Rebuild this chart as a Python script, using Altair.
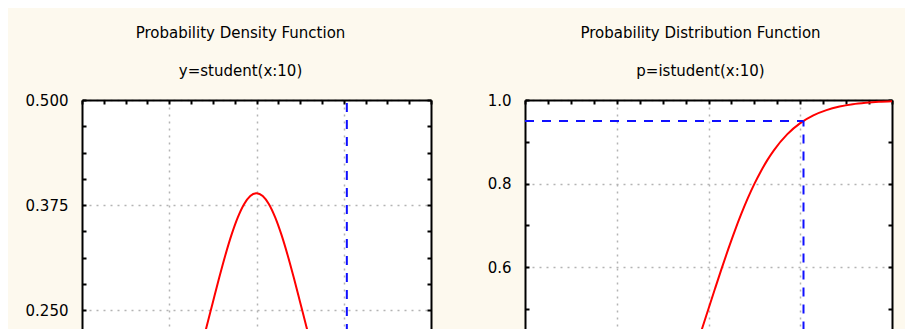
import altair as alt
import pandas as pd

# ---------------- data ----------------
curve_x = [-3.5, -3.25, -3.0, -2.75, -2.5, -2.25, -2.0, -1.75, -1.5, -1.25, -1.125,
           -1.0, -0.875, -0.75, -0.625, -0.5, -0.375, -0.25, -0.125, 0.0,
           0.125, 0.25, 0.375, 0.5, 0.625, 0.75, 0.875, 1.0, 1.125, 1.25,
           1.5, 1.75, 2.0, 2.25, 2.5, 2.75, 3.0, 3.25, 3.5]
pdf_y = [0.0048, 0.0074, 0.0114, 0.0176, 0.0269, 0.0409, 0.0611, 0.0895, 0.1274, 0.1751, 0.2020,
         0.2304, 0.2593, 0.2880, 0.3152, 0.3397, 0.3603, 0.3760, 0.3858, 0.3891,
         0.3858, 0.3760, 0.3603, 0.3397, 0.3152, 0.2880, 0.2593, 0.2304, 0.2020, 0.1751,
         0.1274, 0.0895, 0.0611, 0.0409, 0.0269, 0.0176, 0.0114, 0.0074, 0.0048]
cdf_y = [0.0029, 0.0043, 0.0067, 0.0102, 0.0158, 0.0242, 0.0368, 0.0554, 0.0823, 0.1199, 0.1434,
         0.1704, 0.2010, 0.2352, 0.2730, 0.3139, 0.3578, 0.4038, 0.4515, 0.5000,
         0.5485, 0.5962, 0.6422, 0.6861, 0.7270, 0.7648, 0.7990, 0.8296, 0.8566, 0.8801,
         0.9177, 0.9446, 0.9632, 0.9758, 0.9842, 0.9898, 0.9933, 0.9957, 0.9971]

crit_x = 1.812      # x at p = 0.95
crit_p = 0.95

x_domain = [-3.5, 3.5]
x_major = [-1.75, 0.0, 1.75]
x_minor = [-3.5 + 0.4375 * k for k in range(17)]

pdf_domain = [0.2143, 0.5]
pdf_major = [0.25, 0.375, 0.5]
pdf_minor = [0.5 - 0.03125 * k for k in range(10)]

cdf_domain = [0.4252, 1.0]
cdf_major = [0.6, 0.8, 1.0]
cdf_minor = [1.0 - 0.1 * k for k in range(6)]

titles_left = ["Probability Density Function", "y=student(x:10)"]
titles_right = ["Probability Distribution Function", "p=istudent(x:10)"]

# ---------------- build ----------------
H = 240
FONT = "DejaVu Sans"
GRID = dict(gridColor="#b4b4b4", gridDash=[2, 5], gridWidth=1.5)


def panel(ycol, ydom, ymajor, yminor, yfmt, width, rules, title_lines, dx):
    df = pd.DataFrame({"x": curve_x, "y": ycol})
    rdf = pd.DataFrame(rules)
    xs = alt.Scale(domain=x_domain, nice=False, zero=False)
    ys = alt.Scale(domain=ydom, nice=False, zero=False)

    curve = alt.Chart(df).mark_line(color="#ff0000", strokeWidth=2, clip=True,
                                    interpolate="monotone").encode(
        x=alt.X("x:Q", scale=xs, axis=alt.Axis(orient="bottom", values=x_major, grid=True,
                                               labels=False, ticks=False, domain=False,
                                               title=None, **GRID)),
        y=alt.Y("y:Q", scale=ys, axis=alt.Axis(orient="left", values=ymajor, grid=True,
                                               format=yfmt, ticks=False, domain=True,
                                               domainColor="black", domainWidth=2,
                                               labelPadding=14, title=None, **GRID)),
    )

    dashes = alt.Chart(rdf).mark_rule(color="#1010ff", strokeWidth=2, strokeDash=[9, 8],
                                      clip=True).encode(
        x=alt.X("x:Q", scale=xs, axis=alt.Axis(orient="bottom", offset=-H, values=x_minor,
                                               labels=False, ticks=True, tickSize=4, tickWidth=2,
                                               tickColor="black", domain=True, domainColor="black",
                                               domainWidth=2, grid=False, title=None)),
        x2="x2:Q",
        y=alt.Y("y:Q", scale=ys, axis=alt.Axis(orient="right", offset=-width, values=yminor,
                                               labels=False, ticks=True, tickSize=4, tickWidth=2,
                                               tickColor="black", domain=False, grid=False,
                                               title=None)),
        y2="y2:Q",
    )

    frame = alt.Chart(df).mark_line(strokeOpacity=0, clip=True).encode(
        x=alt.X("x:Q", scale=xs, axis=None),
        y=alt.Y("y:Q", scale=ys, axis=alt.Axis(orient="left", offset=-width, values=yminor,
                                               labels=False, ticks=True, tickSize=4, tickWidth=2,
                                               tickColor="black", domain=True, domainColor="black",
                                               domainWidth=2, grid=False, title=None)),
    )

    return alt.layer(curve, dashes, frame).resolve_axis(
        x="independent", y="independent"
    ).properties(
        width=width, height=H,
        title=alt.TitleParams(text=title_lines, fontSize=15, font=FONT, fontWeight="normal",
                              color="black", lineHeight=38, offset=14, dx=dx),
    )


left = panel(pdf_y, pdf_domain, pdf_major, pdf_minor, ".3f", 349,
             {"x": [crit_x], "x2": [crit_x], "y": [0.0], "y2": [0.5]},
             titles_left, -16)
right = panel(cdf_y, cdf_domain, cdf_major, cdf_minor, ".1f", 367,
              {"x": [x_domain[0], crit_x], "x2": [crit_x, crit_x],
               "y": [crit_p, 0.0], "y2": [crit_p, crit_p]},
              titles_right, -8)

chart = alt.hconcat(left, right, spacing=55).properties(
    background="#fdf9ee",
    padding={"left": 17, "top": 18, "right": 12, "bottom": 0},
).configure_view(stroke=None, fill="white").configure_axis(
    labelFont=FONT, labelFontSize=15, labelColor="black"
).configure_title(font=FONT, fontSize=15, fontWeight="normal", color="black")

chart.save("out.html", embed_options={"renderer": "svg", "actions": False})
